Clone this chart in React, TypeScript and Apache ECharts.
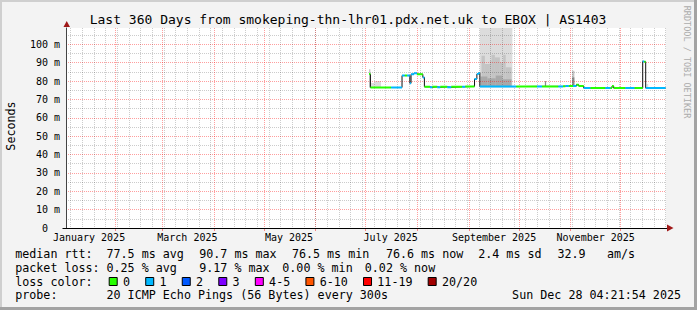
import { useEffect, useRef } from 'react';
import * as echarts from 'echarts';

const FONT = '"DejaVu Sans Mono", monospace';

const title = 'Last 360 Days from smokeping-thn-lhr01.pdx.net.uk to EBOX | AS1403';
const yAxisName = 'Seconds';
const watermark = 'RRDTOOL / TOBI OETIKER';
const rangeStart = '2025-01-02T04:21:54Z';
const rangeEnd = '2025-12-28T04:21:54Z';
const yMax = 108.9;
const yStep = 10;

const monthGrid = ['2025-02-01', '2025-03-01', '2025-04-01', '2025-05-01', '2025-06-01', '2025-07-01',
  '2025-08-01', '2025-09-01', '2025-10-01', '2025-11-01', '2025-12-01'];
const monthLabelAt = ['2025-01-16', '2025-03-16', '2025-05-16', '2025-07-16', '2025-09-16', '2025-11-16'];
const monthLabels = ['January 2025', 'March 2025', 'May 2025', 'July 2025', 'September 2025', 'November 2025'];
const firstWeekLine = '2025-01-05';

// median rtt runs (ms), each run between consecutive edges, with loss bucket index
const runEdges = [
  '2025-07-03T00:00Z', '2025-07-03T20:00Z', '2025-07-16T05:00Z', '2025-07-22T19:00Z', '2025-07-24T10:00Z',
  '2025-07-25T19:00Z', '2025-07-27T12:00Z', '2025-07-28T05:00Z', '2025-07-29T22:00Z', '2025-07-31T19:00Z',
  '2025-08-04T07:00Z', '2025-08-05T05:00Z', '2025-08-08T14:00Z', '2025-08-09T22:00Z', '2025-08-12T22:00Z',
  '2025-08-14T17:00Z', '2025-08-18T22:00Z', '2025-08-21T07:00Z', '2025-08-27T22:00Z', '2025-08-29T17:00Z',
  '2025-09-04T07:00Z', '2025-09-05T17:00Z', '2025-09-06T17:00Z', '2025-09-07T12:00Z', '2025-09-29T07:00Z',
  '2025-10-11T19:00Z', '2025-10-14T19:00Z', '2025-10-24T14:00Z', '2025-10-27T10:00Z', '2025-10-28T19:00Z',
  '2025-10-30T19:00Z', '2025-11-02T10:00Z', '2025-11-04T10:00Z', '2025-11-05T19:00Z', '2025-11-08T19:00Z',
  '2025-11-12T19:00Z', '2025-11-21T19:00Z', '2025-11-24T19:00Z', '2025-11-25T19:00Z', '2025-11-26T19:00Z',
  '2025-12-03T19:00Z', '2025-12-09T05:00Z', '2025-12-14T05:00Z', '2025-12-15T02:00Z', '2025-12-16T00:00Z',
  '2025-12-27T22:00Z',
];
const runMedian = [
  83.8, 76.5, 76.5, 83.0, 83.0, 83.0, 78.8, 83.7, 84.2, 83.7,
  82.0, 76.9, 76.6, 76.9, 76.6, 76.9, 76.6, 76.9, 76.9, 77.1,
  81.1, 83.8, 84.4, 77.0, 77.1, 77.1, 77.1, 77.1, 77.2, 77.3,
  77.3, 77.3, 78.0, 77.3, 76.2, 76.2, 76.2, 76.2, 77.3, 76.2,
  76.2, 76.2, 90.7, 90.5, 76.2,
];
const runLoss = [
  0, 0, 1, 1, 0, 1, 1, 1, 1, 0,
  1, 0, 1, 0, 1, 0, 1, 0, 1, 0,
  1, 1, 1, 1, 0, 1, 0, 1, 0, 1,
  0, 1, 0, 0, 1, 0, 1, 0, 0, 0,
  1, 0, 1, 0, 1,
];

// smoke (ping distribution) blocks
const smokeStart = [
  '2025-07-03T00:00Z', '2025-07-04T05:00Z', '2025-07-06T12:00Z', '2025-09-07T12:00Z',
  '2025-09-08T12:00Z', '2025-09-10T12:00Z', '2025-09-13T12:00Z', '2025-09-14T12:00Z',
  '2025-09-16T12:00Z', '2025-09-19T12:00Z', '2025-09-21T12:00Z', '2025-09-23T00:00Z',
  '2025-09-08T00:00Z', '2025-09-12T00:00Z', '2025-09-17T00:00Z', '2025-09-21T00:00Z',
  '2025-10-16T12:00Z', '2025-11-01T22:00Z', '2025-11-01T22:00Z', '2025-12-16T12:00Z',
];
const smokeEnd = [
  '2025-07-03T20:00Z', '2025-07-06T12:00Z', '2025-07-10T05:00Z', '2025-09-27T00:00Z',
  '2025-09-10T12:00Z', '2025-09-13T12:00Z', '2025-09-14T12:00Z', '2025-09-16T12:00Z',
  '2025-09-19T12:00Z', '2025-09-21T12:00Z', '2025-09-23T00:00Z', '2025-09-26T12:00Z',
  '2025-09-12T00:00Z', '2025-09-17T00:00Z', '2025-09-21T00:00Z', '2025-09-26T12:00Z',
  '2025-10-17T06:00Z', '2025-11-03T05:00Z', '2025-11-03T05:00Z', '2025-12-17T12:00Z',
];
const smokeLow = [76.5, 76.5, 76.5, 77.0, 77, 77, 77, 77, 77, 77, 77, 77, 77, 77, 77, 77, 77.1, 77.3, 77.3, 76.2];
const smokeHigh = [86.4, 79.0, 80.0, 120, 93.8, 89.3, 91.0, 94.3, 92.9, 90.2, 94.3, 87.5, 82.5, 81.5, 83.0, 81.0, 80.0, 85.6, 82.0, 78.4];
const smokeShade = [1, 0, 0, 0, 1, 1, 1, 1, 1, 1, 1, 1, 2, 2, 2, 2, 3, 1, 3, 0];
const smokeColors = ['#dcdcdc', '#c4c4c4', '#a9a9a9', '#8a8a8a'];

const lossLabels = ['0', '1', '2', '3', '4-5', '6-10', '11-19', '20/20'];
const lossColors = ['#26ff00', '#00b8ff', '#0059ff', '#7e00ff', '#ff00ff', '#ff5500', '#ff0000', '#a10000'];

const rttRow = ['median rtt:', '77.5 ms avg', '90.7 ms max', '76.5 ms min', '76.6 ms now', '2.4 ms sd', '32.9', 'am/s'];
const lossRow = ['packet loss:', '0.25 % avg', '9.17 % max', '0.00 % min', '0.02 % now'];
const lossColorCaption = 'loss color:';
const probeRow = ['probe:', '20 ICMP Echo Pings (56 Bytes) every 300s'];
const stampText = 'Sun Dec 28 04:21:54 2025';

// layout: left x of each legend token (pixels)
const rttX = [15.2, 106.5, 199.2, 291.9, 385.9, 478.2, 557.5, 606.9];
const lossX = [15.2, 106.5, 199.2, 282.3, 364.8];
const probeX = [15.2, 106.5];

const t = (s: string) => Date.parse(s.length === 10 ? s + 'T00:00:00Z' : s);

function buildOption() {
  const T0 = t(rangeStart);
  const T1 = t(rangeEnd);
  const monthTicks = monthGrid.map(t);
  const labelTicks = monthLabelAt.map(t);
  const labelMap = new Map<number, string>(labelTicks.map((v, i) => [v, monthLabels[i]]));
  const weekTicks: number[] = [];
  for (let w = t(firstWeekLine); w < T1; w += 7 * 86400000) weekTicks.push(w);

  const edges = runEdges.map(t);
  const blackLine: any[] = [];
  runMedian.forEach((v, i) => {
    blackLine.push([edges[i], v], [edges[i + 1], v]);
  });
  const colorSeries = lossColors.map((c, ci) => {
    const d: any[] = [];
    runMedian.forEach((v, i) => {
      if (runLoss[i] === ci) {
        d.push([edges[i], v], [edges[i + 1], v], [edges[i + 1], '-']);
      }
    });
    return {
      type: 'line', name: lossLabels[ci], data: d, showSymbol: false, symbol: 'none',
      lineStyle: { color: c, width: 2 }, z: 5, silent: true, connectNulls: false,
    };
  });

  const smokeData = smokeStart.map((s, i) => [t(s), t(smokeEnd[i]), smokeLow[i], smokeHigh[i], smokeShade[i]]);

  const CW = 7.03;
  const LFONT = `11.7px ${FONT}`;
  const rows = [253.5, 267.5, 281.5, 295.2];
  const txt = (text: string, x: number, y: number, extra: any = {}) => ({
    type: 'text', x, y, z: 10, silent: true,
    style: { text, font: LFONT, fill: '#000', align: 'left', verticalAlign: 'middle', ...extra },
  });

  const graphic: any[] = [
    { type: 'rect', shape: { x: 0, y: 0, width: 697, height: 2 }, style: { fill: '#cfcfcf' }, z: 10, silent: true },
    { type: 'rect', shape: { x: 0, y: 0, width: 2, height: 310 }, style: { fill: '#cfcfcf' }, z: 10, silent: true },
    { type: 'rect', shape: { x: 694, y: 0, width: 3, height: 310 }, style: { fill: '#a3a3a3' }, z: 10, silent: true },
    { type: 'rect', shape: { x: 0, y: 307, width: 697, height: 3 }, style: { fill: '#a3a3a3' }, z: 10, silent: true },
    { type: 'line', shape: { x1: 62.5, y1: 228.5, x2: 667, y2: 228.5 }, style: { stroke: '#000', lineWidth: 1 }, z: 9, silent: true },
    { type: 'polygon', shape: { points: [[63.5, 27], [70, 27], [66.7, 21]] }, style: { fill: '#a01818' }, z: 10, silent: true },
    { type: 'polygon', shape: { points: [[667, 224.5], [667, 231.5], [673.5, 228]] }, style: { fill: '#a01818' }, z: 10, silent: true },
    {
      type: 'text', x: 348, y: 19, z: 10, silent: true,
      style: { text: title, font: `13px ${FONT}`, fill: '#000', align: 'center', verticalAlign: 'middle' },
    },
    {
      type: 'text', x: 11, y: 126, rotation: Math.PI / 2, z: 10, silent: true,
      style: { text: yAxisName, font: LFONT, fill: '#000', align: 'center', verticalAlign: 'middle' },
    },
    {
      type: 'text', x: 687, y: 62, rotation: -Math.PI / 2, z: 10, silent: true,
      style: { text: watermark, font: `8.5px ${FONT}`, fill: '#ababab', align: 'center', verticalAlign: 'middle' },
    },
  ];
  rttRow.forEach((s, i) => graphic.push(txt(s, rttX[i], rows[0])));
  lossRow.forEach((s, i) => graphic.push(txt(s, lossX[i], rows[1])));
  graphic.push(txt(lossColorCaption, 15.2, rows[2]));
  let bx = 108.7;
  lossLabels.forEach((lab, i) => {
    graphic.push({
      type: 'rect', shape: { x: bx + 0.5, y: rows[2] - 4, width: 8, height: 8 }, z: 10, silent: true,
      style: { fill: lossColors[i], stroke: '#000', lineWidth: 1 },
    });
    const tx = bx + 14.3;
    graphic.push(txt(lab, tx, rows[2]));
    bx = tx + lab.length * CW + 15.2;
  });
  probeRow.forEach((s, i) => graphic.push(txt(s, probeX[i], rows[3])));
  graphic.push(txt(stampText, 681, rows[3], { align: 'right' }));

  const redGrid = { color: 'rgba(255,0,0,0.38)', width: 1, type: [1, 1] };
  const greyGrid = { color: 'rgba(0,0,0,0.2)', width: 1, type: [1, 1] };

  return {
    animation: false,
    backgroundColor: '#f3f3f3',
    textStyle: { fontFamily: FONT },
    grid: { left: 66, top: 28, width: 600, height: 200, show: true, backgroundColor: '#ffffff', borderWidth: 0 },
    xAxis: [
      {
        type: 'value', min: T0, max: T1, z: 3,
        axisLine: { show: true, lineStyle: { color: '#000', width: 1 } },
        axisTick: { show: true, customValues: monthTicks, length: 3, lineStyle: { color: 'rgba(255,0,0,0.45)' } },
        axisLabel: {
          show: true, customValues: labelTicks, fontFamily: FONT, fontSize: 10, color: '#000', margin: 4,
          formatter: (v: number) => labelMap.get(v) ?? '',
        },
        splitLine: { show: true, lineStyle: redGrid },
      },
      {
        type: 'value', min: T0, max: T1, z: 3, position: 'bottom',
        axisLine: { show: false },
        axisTick: { show: false, customValues: weekTicks },
        axisLabel: { show: false },
        splitLine: { show: true, lineStyle: greyGrid },
      },
    ],
    yAxis: {
      type: 'value', min: 0, max: yMax, interval: yStep, z: 3,
      axisLine: { show: true, lineStyle: { color: '#444', width: 1 } },
      axisTick: { show: false },
      axisLabel: {
        fontFamily: FONT, fontSize: 10, color: '#000', margin: 6, showMaxLabel: false,
        formatter: (v: number) => (v === 0 ? '{z|0}' : `${v} m`),
        rich: { z: { fontFamily: FONT, fontSize: 10, color: '#000', padding: [0, 12, 0, 0] } },
      },
      splitLine: { show: true, showMaxLine: false, lineStyle: redGrid },
      minorTick: { show: false, splitNumber: 2 },
      minorSplitLine: { show: true, lineStyle: greyGrid },
    },
    graphic,
    series: [
      {
        type: 'custom', name: 'smoke', data: smokeData, z: 2, clip: true, silent: true,
        encode: { x: [0, 1], y: [2, 3] },
        renderItem: (_p: any, api: any) => {
          const a = api.coord([api.value(0), api.value(3)]);
          const b = api.coord([api.value(1), api.value(2)]);
          return {
            type: 'rect',
            shape: { x: a[0], y: a[1], width: b[0] - a[0], height: b[1] - a[1] },
            style: { fill: smokeColors[api.value(4)] },
          };
        },
      },
      {
        type: 'line', name: 'median', data: blackLine, showSymbol: false, symbol: 'none',
        lineStyle: { color: '#111', width: 1 }, z: 4, silent: true,
      },
      ...colorSeries,
    ],
  };
}

export default function App() {
  const ref = useRef<HTMLDivElement>(null);
  useEffect(() => {
    const chart = echarts.init(ref.current!, null, { renderer: 'svg' });
    chart.setOption(buildOption() as any);
    return () => chart.dispose();
  }, []);
  return <div ref={ref} style={{ position: 'fixed', left: 0, top: 0, width: 697, height: 310 }} />;
}
